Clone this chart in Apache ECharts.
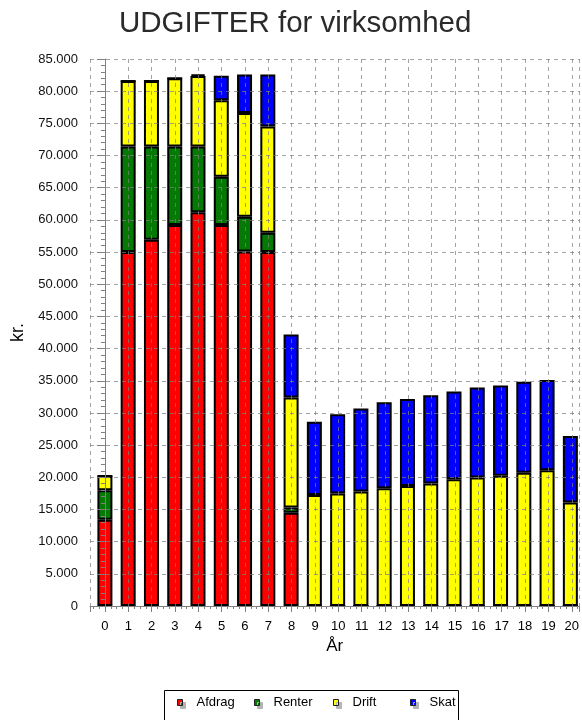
<!DOCTYPE html>
<html>
<head>
<meta charset="utf-8">
<title>UDGIFTER for virksomhed</title>
<script src="https://cdn.jsdelivr.net/npm/echarts@6/dist/echarts.min.js"></script>
<style>
  html, body { margin: 0; padding: 0; background: #ffffff; }
  #chart { width: 582px; height: 720px; }
</style>
</head>
<body>
<div id="chart"></div>
<script>
// Years on the horizontal axis
const years = ['0', '1', '2', '3', '4', '5', '6', '7', '8', '9', '10',
               '11', '12', '13', '14', '15', '16', '17', '18', '19', '20'];

// Yearly expenses in kr., one array per component (stacked bottom to top)
const afdrag = [13400, 55000, 56900, 59200, 61200, 59200, 55100, 55000, 14500, 0,
                0, 0, 0, 0, 0, 0, 0, 0, 0, 0, 0];
const renter = [4600, 16400, 14500, 12200, 10200, 7500, 5400, 3000, 800, 0,
                0, 0, 0, 0, 0, 0, 0, 0, 0, 0, 0];
const drift  = [2200, 10200, 10200, 10600, 10950, 11900, 16100, 16500, 17100, 17250,
                17500, 17800, 18300, 18650, 19050, 19700, 19950, 20250, 20700, 21100, 16100];
const skat   = [0, 0, 0, 0, 250, 3800, 6000, 8100, 9800, 11400,
                12300, 12900, 13350, 13500, 13700, 13650, 14000, 14000, 14150, 14000, 10300];

const seriesNames  = ['Afdrag', 'Renter', 'Drift', 'Skat'];
const seriesValues = [afdrag, renter, drift, skat];
const seriesColors = ['#ff0000', '#047a04', '#ffff00', '#0000ff'];

// Value range of the amount axis
const yMax = 85000;
const yStep = 5000;

// ---- layout ----
const W = 582;
const FONT = '"Liberation Sans", Arial, Helvetica, sans-serif';
const plotTop = 59;
const plotBottom = 114;
const frameLeft = 90;          // position of the amount axis line
const step = 23.46;            // width of one year slot
const firstOffset = 15;        // distance from axis line to the centre of year 0
const barGridLeft = frameLeft + firstOffset - step / 2;
const barGridRight = W - barGridLeft - step * years.length;
const xMin = -firstOffset / step;
const xMax = (W - frameLeft - firstOffset) / step;

const gridColor = 'rgba(128,128,128,0.72)';
const axisColor = '#808080';

function thousands(v) {
  if (v === 0) return '0';
  const s = String(Math.round(v));
  return s.replace(/\B(?=(\d{3})+(?!\d))/g, '.');
}

const legendLefts = [177, 254, 333, 410];

const option = {
  backgroundColor: '#ffffff',
  animation: false,
  title: {
    text: 'UDGIFTER for virksomhed',
    left: 119,
    top: 9,
    padding: 0,
    textStyle: { fontFamily: FONT, fontSize: 29.5, fontWeight: 'normal', color: '#2a2a2a' }
  },
  grid: [
    // grid holding the stacked bars (one slot per year)
    { left: barGridLeft, right: barGridRight, top: plotTop, bottom: plotBottom },
    // grid drawing the visible axes and the dashed reference lines
    { left: frameLeft, right: 0, top: plotTop, bottom: plotBottom }
  ],
  xAxis: [
    { gridIndex: 0, type: 'category', data: years, boundaryGap: true, show: false },
    {
      gridIndex: 1, type: 'value', min: xMin, max: xMax,
      splitNumber: 21, minInterval: 1, maxInterval: 1, z: 3,
      name: 'År', nameLocation: 'middle', nameGap: 32,
      nameTextStyle: { fontFamily: FONT, fontSize: 17, color: '#000' },
      axisLine: { show: true, onZero: false, lineStyle: { color: axisColor, width: 1 } },
      axisTick: { show: true, length: 6, lineStyle: { color: axisColor } },
      minorTick: { show: true, splitNumber: 4, length: 3, lineStyle: { color: axisColor } },
      axisLabel: {
        showMinLabel: false, showMaxLabel: false, margin: 14,
        fontFamily: FONT, fontSize: 13, color: '#000',
        formatter: v => String(Math.round(v))
      },
      splitLine: { show: true, lineStyle: { color: gridColor, type: [4, 4], width: 1 } }
    }
  ],
  yAxis: [
    { gridIndex: 0, type: 'value', min: 0, max: yMax, show: false },
    {
      gridIndex: 1, type: 'value', min: 0, max: yMax, interval: yStep, z: 3,
      name: 'kr.', nameLocation: 'middle', nameGap: 62,
      nameTextStyle: { fontFamily: FONT, fontSize: 18, color: '#000' },
      axisLine: { show: true, lineStyle: { color: axisColor, width: 1 } },
      axisTick: { show: true, length: 8, lineStyle: { color: axisColor } },
      minorTick: { show: true, splitNumber: 5, length: 4, lineStyle: { color: axisColor } },
      axisLabel: { margin: 12, fontFamily: FONT, fontSize: 13, color: '#111', formatter: thousands },
      splitLine: { show: true, lineStyle: { color: gridColor, type: [4, 4], width: 1 } }
    }
  ],
  legend: seriesNames.map((name, i) => ({
    data: [name],
    left: legendLefts[i],
    top: 696,
    padding: 0,
    selectedMode: false,
    icon: 'rect',
    itemWidth: 5,
    itemHeight: 6,
    itemStyle: {
      borderColor: '#222', borderWidth: 1,
      shadowColor: '#b4b4b4', shadowBlur: 0, shadowOffsetX: 3, shadowOffsetY: 3
    },
    textStyle: { fontFamily: FONT, fontSize: 13, color: '#000', padding: [0, 0, 0, 9] }
  })),
  graphic: [
    {
      type: 'rect', z: 1, silent: true,
      shape: { x: 164.5, y: 690.5, width: 294, height: 40 },
      style: { fill: '#ffffff', stroke: '#000000', lineWidth: 1 }
    }
  ],
  series: seriesNames.map((name, i) => ({
    name: name,
    type: 'bar',
    stack: 'udgifter',
    xAxisIndex: 0,
    yAxisIndex: 0,
    barWidth: 15,
    data: seriesValues[i],
    itemStyle: { color: seriesColors[i], borderColor: '#000000', borderWidth: 2 },
    emphasis: { disabled: true }
  }))
};

const chart = echarts.init(document.getElementById('chart'), null, { renderer: 'canvas' });
chart.setOption(option);
</script>
</body>
</html>
